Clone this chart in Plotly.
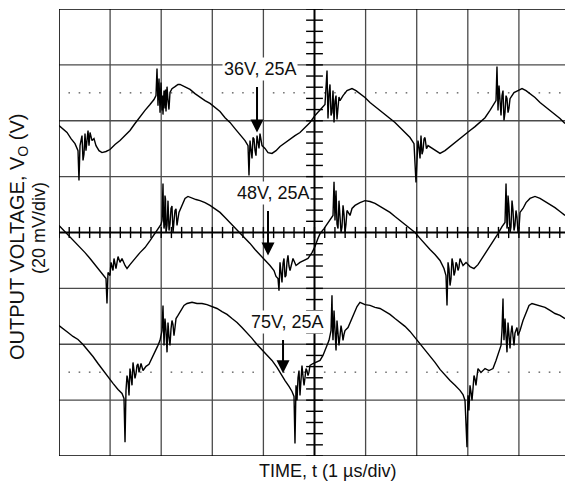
import plotly.graph_objects as go

# ---- Output ripple at 25 A load for three input voltages ----
# time in microseconds, voltage in mV relative to the screen centre line

t_36v = [0, 0.078, 0.157, 0.235, 0.313, 0.372, 0.391, 0.411, 0.450, 0.470, 0.509, 0.528,
         0.568, 0.587, 0.607, 0.646, 0.685, 0.724, 0.783, 0.841, 0.920, 0.998, 1.096, 1.194,
         1.292, 1.389, 1.487, 1.585, 1.683, 1.781, 1.859, 1.898, 1.918, 1.937, 1.957, 1.977,
         1.996, 2.016, 2.055, 2.074, 2.114, 2.133, 2.172, 2.211, 2.270, 2.329, 2.368, 2.466,
         2.564, 2.661, 2.759, 2.857, 2.955, 3.053, 3.151, 3.249, 3.346, 3.444, 3.542, 3.640,
         3.699, 3.718, 3.738, 3.777, 3.796, 3.836, 3.875, 3.914, 3.933, 3.973, 4.031, 4.090,
         4.168, 4.247, 4.325, 4.423, 4.521, 4.618, 4.716, 4.814, 4.912, 5.010, 5.108, 5.205,
         5.245, 5.264, 5.303, 5.323, 5.362, 5.382, 5.421, 5.460, 5.499, 5.558, 5.636, 5.734,
         5.812, 5.890, 5.988, 6.086, 6.184, 6.282, 6.380, 6.477, 6.575, 6.673, 6.771, 6.869,
         6.947, 6.967, 6.986, 7.006, 7.025, 7.065, 7.084, 7.123, 7.162, 7.221, 7.299, 7.378,
         7.456, 7.554, 7.652, 7.750, 7.847, 7.945, 8.043, 8.141, 8.239, 8.337, 8.434, 8.513,
         8.552, 8.571, 8.591, 8.611, 8.650, 8.689, 8.708, 8.748, 8.787, 8.826, 8.904, 8.982,
         9.061, 9.139, 9.217, 9.315, 9.413, 9.511, 9.609, 9.706, 9.804, 9.902]
v_36v = [38.3, 37.2, 35.8, 33.6, 31.8, 29.3, 18.6, 31.1, 34.7, 25.8, 35.4, 29.3,
         36.5, 31.1, 35.8, 32.9, 33.6, 31.1, 29.3, 28.6, 29.0, 29.7, 31.5, 32.9,
         34.7, 36.5, 39.0, 41.5, 43.7, 45.8, 47.6, 49.0, 58.7, 45.4, 55.1, 42.9,
         53.7, 43.7, 50.8, 44.4, 52.2, 47.2, 50.1, 51.5, 52.2, 53.0, 53.0, 52.2,
         51.2, 49.7, 48.3, 47.2, 46.2, 44.7, 43.3, 41.1, 39.4, 37.2, 35.1, 32.9,
         31.1, 20.4, 32.9, 26.5, 34.0, 29.3, 34.7, 30.1, 35.4, 31.1, 30.1, 28.6,
         28.3, 29.3, 30.8, 32.2, 33.6, 34.7, 35.8, 37.6, 39.4, 41.9, 43.7, 45.8,
         58.0, 40.8, 53.0, 41.9, 50.8, 39.4, 49.0, 44.4, 47.2, 49.0, 50.8, 51.5,
         50.8, 49.7, 48.3, 46.5, 45.1, 43.7, 42.2, 40.8, 39.4, 37.6, 35.8, 34.0,
         31.8, 24.0, 17.9, 25.8, 32.9, 26.5, 34.7, 29.3, 34.0, 31.1, 30.1, 29.3,
         28.3, 29.3, 30.8, 32.2, 33.6, 35.1, 36.5, 37.9, 39.4, 41.1, 43.7, 45.8,
         47.2, 59.4, 43.7, 52.6, 41.9, 50.8, 40.1, 49.0, 42.9, 47.9, 50.1, 50.8,
         51.5, 50.8, 49.7, 48.3, 46.5, 45.1, 43.7, 42.2, 40.8, 39.0]
# extra samples inside the switching-noise bursts
t_36v_burst = [0.489, 0.548, 2.026, 2.035, 2.084, 2.094, 2.152, 3.757, 3.816, 3.855, 3.894,
               5.284, 5.342, 5.401, 5.440, 5.479, 7.045, 7.104, 7.143, 7.191,
               8.630, 8.669, 8.728, 8.767, 8.806]
v_36v_burst = [28.0, 33.0, 49.0, 42.2, 51.2, 43.3, 44.0, 30.0, 33.5, 27.5, 33.0,
               49.5, 43.0, 47.0, 40.5, 48.5, 30.5, 28.0, 33.5, 30.0,
               45.5, 49.0, 43.0, 48.0, 44.5]

t_48v = [0, 0.059, 0.137, 0.215, 0.313, 0.411, 0.509, 0.607, 0.705, 0.802, 0.881, 0.920,
         0.939, 0.959, 0.998, 1.018, 1.057, 1.076, 1.115, 1.155, 1.194, 1.233, 1.292, 1.331,
         1.389, 1.448, 1.507, 1.585, 1.683, 1.781, 1.879, 1.937, 1.996, 2.016, 2.035, 2.055,
         2.074, 2.094, 2.133, 2.153, 2.192, 2.231, 2.270, 2.309, 2.348, 2.407, 2.466, 2.524,
         2.603, 2.681, 2.759, 2.857, 2.955, 3.053, 3.151, 3.249, 3.346, 3.444, 3.542, 3.640,
         3.738, 3.836, 3.933, 4.031, 4.129, 4.207, 4.247, 4.286, 4.305, 4.325, 4.364, 4.403,
         4.442, 4.481, 4.521, 4.579, 4.638, 4.716, 4.795, 4.873, 4.951, 5.010, 5.068, 5.108,
         5.186, 5.264, 5.323, 5.362, 5.382, 5.401, 5.421, 5.460, 5.479, 5.519, 5.558, 5.597,
         5.636, 5.695, 5.734, 5.793, 5.890, 5.988, 6.086, 6.184, 6.282, 6.380, 6.477, 6.575,
         6.673, 6.771, 6.869, 6.967, 7.065, 7.162, 7.260, 7.358, 7.456, 7.534, 7.573, 7.593,
         7.613, 7.652, 7.691, 7.730, 7.769, 7.808, 7.847, 7.906, 7.965, 8.043, 8.121, 8.199,
         8.278, 8.356, 8.434, 8.513, 8.591, 8.669, 8.728, 8.748, 8.767, 8.787, 8.826, 8.865,
         8.904, 8.943, 8.982, 9.022, 9.080, 9.139, 9.217, 9.315, 9.413, 9.511, 9.609, 9.706,
         9.804, 9.902]
v_48v = [2.5, 1.4, 0.0, -1.4, -3.2, -5.4, -7.2, -9.3, -11.5, -13.6, -15.4, -16.5,
         -25.4, -14.3, -15.4, -10.7, -13.6, -9.3, -12.9, -8.6, -10.7, -9.3, -11.8, -12.9,
         -11.5, -10.0, -8.9, -7.2, -5.4, -2.9, -0.4, 1.4, 2.9, 4.3, 17.5, 1.4,
         13.2, 0.0, 11.4, 0.7, 8.6, 0.0, 7.9, 2.5, 7.2, 9.7, 12.2, 12.9,
         12.2, 11.8, 11.4, 10.7, 9.7, 8.6, 7.2, 5.4, 3.6, 1.8, 0.0, -1.8,
         -3.9, -6.1, -7.9, -10.0, -11.8, -13.6, -15.7, -16.5, -20.8, -10.7, -17.9, -9.3,
         -15.4, -8.2, -13.6, -9.3, -11.8, -10.7, -10.0, -9.3, -7.2, -5.0, -2.1, -0.4,
         1.4, 3.6, 5.0, 6.1, 18.2, 4.3, 15.0, 1.4, 11.4, 0.0, 9.7, 0.0,
         7.9, 6.1, 8.6, 9.7, 10.7, 11.4, 11.1, 10.4, 9.3, 8.2, 7.2, 5.7,
         4.3, 2.9, 1.4, 0.0, -2.1, -4.3, -6.1, -7.9, -10.0, -12.9, -15.4, -26.1,
         -10.7, -19.0, -9.3, -15.4, -10.7, -13.6, -9.3, -11.8, -10.7, -12.2, -12.9, -11.5,
         -9.3, -7.2, -5.0, -2.9, -0.4, 2.1, 3.6, 17.5, 1.4, 13.2, 0.0, 11.4,
         0.7, 7.9, 0.0, 7.2, 8.6, 10.7, 12.2, 12.9, 12.2, 11.1, 10.0, 8.9,
         7.5, 6.1]
t_48v_burst = [2.045, 2.065, 2.084, 2.114, 2.143, 2.172, 2.211, 2.250, 2.290,
               4.344, 4.384, 4.423, 4.462, 4.501,
               5.392, 5.411, 5.440, 5.499, 5.538, 5.577, 5.616,
               7.632, 7.671, 7.710, 7.750, 7.789, 7.827,
               8.757, 8.777, 8.806, 8.845, 8.884, 8.923, 8.962, 9.002]
v_48v_burst = [6.0, 3.0, 12.0, 2.5, 8.0, 3.0, 9.5, 4.0, 8.5,
               -14.0, -11.0, -16.0, -10.5, -12.0,
               6.0, 10.0, 3.0, 5.5, 2.0, 6.5, 3.0,
               -13.0, -16.5, -11.0, -14.0, -11.5, -12.5,
               5.0, 3.0, 9.0, 2.0, 8.0, 2.5, 5.5, 1.5]

t_75v = [0, 0.078, 0.176, 0.274, 0.372, 0.470, 0.568, 0.665, 0.763, 0.861, 0.959, 1.057,
         1.155, 1.233, 1.272, 1.292, 1.311, 1.331, 1.370, 1.389, 1.429, 1.448, 1.487, 1.526,
         1.566, 1.605, 1.644, 1.703, 1.761, 1.820, 1.879, 1.937, 1.977, 2.016, 2.035, 2.055,
         2.074, 2.114, 2.133, 2.172, 2.211, 2.250, 2.290, 2.329, 2.387, 2.446, 2.505, 2.603,
         2.701, 2.798, 2.896, 2.994, 3.092, 3.190, 3.288, 3.386, 3.484, 3.581, 3.679, 3.777,
         3.875, 3.973, 4.071, 4.168, 4.266, 4.344, 4.423, 4.501, 4.560, 4.599, 4.618, 4.638,
         4.658, 4.697, 4.716, 4.755, 4.795, 4.834, 4.873, 4.912, 4.971, 5.029, 5.108, 5.166,
         5.225, 5.284, 5.323, 5.342, 5.362, 5.382, 5.421, 5.440, 5.479, 5.519, 5.558, 5.597,
         5.656, 5.714, 5.773, 5.832, 5.890, 5.988, 6.086, 6.184, 6.282, 6.380, 6.477, 6.575,
         6.673, 6.771, 6.869, 6.967, 7.065, 7.162, 7.260, 7.358, 7.456, 7.554, 7.652, 7.750,
         7.847, 7.906, 7.945, 7.984, 8.004, 8.023, 8.043, 8.082, 8.121, 8.160, 8.199, 8.258,
         8.337, 8.415, 8.493, 8.552, 8.611, 8.650, 8.669, 8.689, 8.708, 8.728, 8.767, 8.787,
         8.826, 8.865, 8.904, 8.943, 8.982, 9.022, 9.080, 9.139, 9.198, 9.256, 9.335, 9.413,
         9.511, 9.609, 9.706, 9.804, 9.902]
v_75v = [-33.3, -34.3, -35.8, -37.2, -38.3, -40.1, -42.2, -44.4, -46.9, -49.4, -51.9, -54.0,
         -56.2, -57.6, -59.4, -75.1, -56.5, -51.2, -58.3, -48.7, -54.7, -46.5, -52.2, -47.6,
         -50.1, -46.9, -49.4, -47.9, -47.2, -45.1, -42.9, -40.4, -38.6, -35.1, -26.1, -40.4,
         -30.8, -42.9, -32.2, -40.4, -31.5, -36.9, -30.8, -29.7, -27.9, -26.1, -25.4, -25.0,
         -25.4, -25.4, -25.8, -26.5, -27.2, -28.3, -29.3, -30.8, -32.2, -34.0, -35.8, -37.9,
         -40.1, -41.9, -43.7, -45.8, -48.3, -50.8, -53.0, -55.1, -56.9, -58.7, -75.5, -54.7,
         -60.1, -49.4, -58.3, -47.6, -54.7, -48.7, -51.2, -47.6, -46.9, -46.5, -45.8, -44.0,
         -41.5, -38.6, -35.1, -22.5, -38.6, -27.9, -42.2, -31.5, -40.4, -33.3, -38.6, -35.1,
         -34.0, -31.5, -28.6, -26.5, -25.0, -25.8, -26.1, -26.8, -27.2, -28.3, -29.3, -30.8,
         -32.2, -33.6, -35.4, -37.6, -39.7, -41.9, -44.4, -46.5, -49.0, -51.2, -53.0, -54.7,
         -56.5, -58.0, -60.1, -76.9, -58.3, -63.7, -54.7, -60.1, -51.2, -54.7, -48.7, -50.1,
         -48.7, -49.4, -48.7, -45.8, -42.9, -40.4, -35.1, -23.6, -38.6, -30.8, -42.9, -32.2,
         -41.5, -33.3, -40.4, -35.1, -36.9, -35.1, -31.5, -28.6, -26.1, -25.4, -25.8, -26.1,
         -26.8, -27.9, -29.0, -29.7, -30.8]
t_75v_burst = [1.350, 1.409, 1.468, 1.507, 1.546, 1.585,
               2.045, 2.094, 2.153, 2.192, 2.231, 2.270,
               4.677, 4.736, 4.775, 4.814, 4.853, 4.892,
               5.352, 5.401, 5.460, 5.499, 5.538, 5.577,
               8.013, 8.062, 8.101, 8.141, 8.180,
               8.698, 8.747, 8.806, 8.845, 8.884, 8.923, 8.962]
v_75v_burst = [-53.0, -51.0, -49.5, -50.5, -47.0, -48.5,
               -36.0, -35.0, -37.5, -34.5, -33.0, -34.0,
               -52.0, -50.5, -51.5, -52.0, -49.5, -50.0,
               -33.5, -36.0, -35.0, -37.0, -35.5, -36.5,
               -61.5, -57.0, -56.0, -52.5, -51.5,
               -33.0, -36.5, -37.0, -36.0, -37.0, -36.0, -34.0]

# trace labels: (text, label x, label y, arrow x, arrow tail y, arrow tip y)
labels = [
    ("36V, 25A", 3.943, 58.7, 3.875, 52.6, 35.8),
    ("48V, 25A", 4.178, 14.0, 4.090, 8.2, -8.2),
    ("75V, 25A", 4.462, -32.2, 4.384, -37.9, -50.4),
]

# screen graticule: 10 x 1 us, 8 x 20 mV
T_DIV, V_DIV = 1.0, 20.0
N_X, N_Y = 10, 8
T_MAX = 9.902          # visible portion of the time window
V_MIN, V_MAX = -80.0, 80.0
REF_LEVELS = [50.0, -50.0]   # dotted reference levels

FONT = "Liberation Sans, Arial, Helvetica, sans-serif"
GRID = "#4a4a4a"


def merged(t, v, tb, vb):
    pts = sorted(zip(list(t) + list(tb), list(v) + list(vb)))
    return [p[0] for p in pts], [p[1] for p in pts]


fig = go.Figure()

# dotted reference levels (minor-division dots, off the major grid)
minor_t = [i * T_DIV / 5 for i in range(0, N_X * 5 + 1) if i % 5 != 0]
for lvl in REF_LEVELS:
    fig.add_trace(go.Scatter(
        x=minor_t, y=[lvl] * len(minor_t), mode="markers",
        marker=dict(symbol="square", size=1.6, color="#777777", line=dict(width=0)),
        hoverinfo="skip", showlegend=False))

# centre-axis minor ticks
fig.add_trace(go.Scatter(
    x=[i * T_DIV / 5 for i in range(0, N_X * 5 + 1)], y=[0] * (N_X * 5 + 1),
    mode="markers",
    marker=dict(symbol="line-ns-open", size=8, color="#000",
                line=dict(width=1.4, color="#000")),
    hoverinfo="skip", showlegend=False))
fig.add_trace(go.Scatter(
    x=[N_X / 2 * T_DIV] * (N_Y * 5 + 1),
    y=[V_MIN + i * V_DIV / 5 for i in range(0, N_Y * 5 + 1)],
    mode="markers",
    marker=dict(symbol="line-ew-open", size=12, color="#000",
                line=dict(width=1.4, color="#000")),
    hoverinfo="skip", showlegend=False))

# waveforms
for tt, vv, tb, vb in [(t_36v, v_36v, t_36v_burst, v_36v_burst),
                       (t_48v, v_48v, t_48v_burst, v_48v_burst),
                       (t_75v, v_75v, t_75v_burst, v_75v_burst)]:
    xs, ys = merged(tt, vv, tb, vb)
    fig.add_trace(go.Scatter(
        x=xs, y=ys, mode="lines",
        line=dict(color="#000000", width=1.4),
        hoverinfo="skip", showlegend=False))

shapes = []
# major grid
for i in range(1, N_X):
    if i == N_X // 2:
        continue
    shapes.append(dict(type="line", xref="x", yref="y", x0=i * T_DIV, x1=i * T_DIV,
                       y0=V_MIN, y1=V_MAX, line=dict(color=GRID, width=1.3), layer="below"))
for j in range(1, N_Y):
    v = V_MIN + j * V_DIV
    if v == 0:
        continue
    shapes.append(dict(type="line", xref="x", yref="y", x0=0, x1=N_X * T_DIV,
                       y0=v, y1=v, line=dict(color=GRID, width=1.3), layer="below"))
# centre axes
shapes.append(dict(type="line", xref="x", yref="y", x0=0, x1=N_X * T_DIV, y0=0, y1=0,
                   line=dict(color="#000", width=2)))
shapes.append(dict(type="line", xref="x", yref="y", x0=N_X / 2 * T_DIV, x1=N_X / 2 * T_DIV,
                   y0=V_MIN, y1=V_MAX, line=dict(color="#000", width=2)))
# frame (left, top, bottom)
shapes.append(dict(type="line", xref="x", yref="y", x0=0, x1=0, y0=V_MIN, y1=V_MAX,
                   line=dict(color="#000", width=1.6)))
shapes.append(dict(type="line", xref="x", yref="y", x0=0, x1=N_X * T_DIV, y0=V_MAX, y1=V_MAX,
                   line=dict(color="#000", width=1.6)))
shapes.append(dict(type="line", xref="x", yref="y", x0=0, x1=N_X * T_DIV, y0=V_MIN, y1=V_MIN,
                   line=dict(color="#000", width=1.6)))

annotations = []
for text, lx, ly, ax_, tail, tip in labels:
    annotations.append(dict(
        x=lx, y=ly, xref="x", yref="y", text=text, showarrow=False,
        font=dict(family=FONT, size=18, color="#111"),
        bgcolor="white", borderpad=1, xanchor="center", yanchor="middle"))
    annotations.append(dict(
        x=ax_, y=tip, ax=ax_, ay=tail, xref="x", yref="y", axref="x", ayref="y",
        text="", showarrow=True, arrowhead=2, arrowsize=1.3, arrowwidth=2,
        arrowcolor="#000", standoff=0, startstandoff=0))

# axis titles
annotations.append(dict(
    x=-40 / 506, y=(456 - 237) / 447, xref="paper", yref="paper",
    text="OUTPUT VOLTAGE, V<sub>O</sub> (V)", textangle=-90, showarrow=False,
    font=dict(family=FONT, size=20, color="#111"), xanchor="center", yanchor="middle"))
annotations.append(dict(
    x=-20 / 506, y=(456 - 228) / 447, xref="paper", yref="paper",
    text="(20 mV/div)", textangle=-90, showarrow=False,
    font=dict(family=FONT, size=18, color="#111"), xanchor="center", yanchor="middle"))
annotations.append(dict(
    x=(327 - 59) / 506, y=(456 - 471) / 447, xref="paper", yref="paper",
    text="TIME, t (1 µs/div)", showarrow=False,
    font=dict(family=FONT, size=18, color="#111"), xanchor="center", yanchor="middle"))

fig.update_layout(
    width=565, height=485,
    margin=dict(l=59, r=0, t=9, b=29),
    paper_bgcolor="white", plot_bgcolor="white",
    xaxis=dict(range=[0, T_MAX], showgrid=False, zeroline=False, showticklabels=False,
               ticks="", showline=False, fixedrange=True),
    yaxis=dict(range=[V_MIN, V_MAX], showgrid=False, zeroline=False, showticklabels=False,
               ticks="", showline=False, fixedrange=True),
    shapes=shapes, annotations=annotations, showlegend=False,
)

fig.write_html("out.html", config={"displayModeBar": False})
